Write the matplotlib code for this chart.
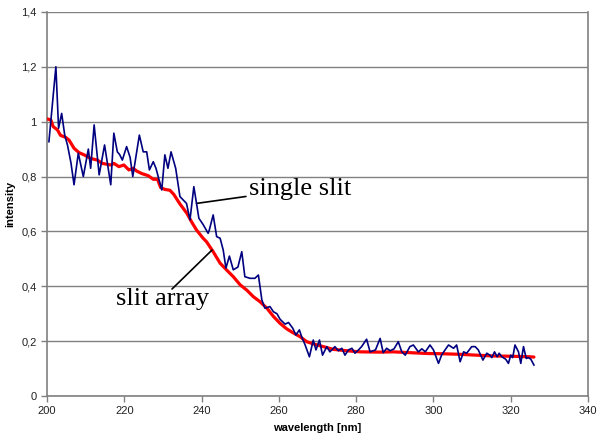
import matplotlib.pyplot as plt
from matplotlib.ticker import FuncFormatter

# single slit spectrum (noisy)
single_wl = [200.5, 202.3, 203.0, 203.8, 204.6, 205.3, 206.2, 207.0, 208.1, 209.4,
             210.7, 211.3, 212.2, 213.5, 214.9, 216.5, 217.3, 218.2, 218.8, 219.5,
             220.6, 221.5, 222.2, 223.9, 224.9, 225.8, 226.5, 227.5, 228.2, 229.7,
             230.5, 231.3, 232.1, 233.3, 234.4, 236.1, 237.0, 238.0, 238.7, 239.3,
             240.4, 241.7, 242.0, 243.0, 243.9, 244.8, 245.6, 246.3, 247.2, 248.2,
             249.4, 250.4, 251.2, 252.5, 253.8, 254.7, 255.6, 256.4, 257.7, 258.6,
             259.5, 260.3, 261.6, 262.5, 263.6, 264.4, 265.3, 265.9, 266.8, 267.9,
             268.9, 269.6, 270.5, 271.3, 272.4, 273.2, 274.5, 275.4, 276.3, 277.1,
             278.0, 278.9, 279.7, 280.6, 281.4, 282.7, 283.6, 285.0, 286.2, 287.0,
             287.9, 288.8, 289.8, 290.9, 291.8, 292.7, 293.9, 294.8, 296.1, 297.0,
             297.9, 299.1, 300.0, 301.3, 302.1, 303.0, 303.9, 305.2, 306.0, 306.9,
             307.8, 308.6, 309.9, 310.8, 311.6, 312.8, 313.8, 314.6, 315.1, 315.8,
             316.5, 317.0, 317.7, 318.7, 319.4, 320.0, 320.5, 321.1, 322.0, 322.6,
             323.3, 324.0, 324.6, 325.2, 326.0]
single_int = [0.927, 1.20, 0.976, 1.03, 0.95, 0.915, 0.85, 0.77, 0.885, 0.80,
              0.90, 0.83, 0.988, 0.806, 0.915, 0.77, 0.958, 0.89, 0.88, 0.86,
              0.909, 0.87, 0.80, 0.951, 0.89, 0.89, 0.824, 0.854, 0.83, 0.751,
              0.879, 0.83, 0.89, 0.83, 0.727, 0.702, 0.642, 0.763, 0.702, 0.648,
              0.625, 0.593, 0.605, 0.66, 0.581, 0.575, 0.532, 0.466, 0.51, 0.46,
              0.47, 0.526, 0.435, 0.429, 0.429, 0.441, 0.35, 0.32, 0.326, 0.307,
              0.30, 0.28, 0.262, 0.268, 0.247, 0.222, 0.241, 0.216, 0.186, 0.143,
              0.204, 0.168, 0.204, 0.149, 0.18, 0.161, 0.18, 0.165, 0.174, 0.149,
              0.168, 0.174, 0.156, 0.168, 0.18, 0.207, 0.161, 0.168, 0.21, 0.158,
              0.174, 0.165, 0.172, 0.198, 0.161, 0.149, 0.18, 0.186, 0.161, 0.172,
              0.161, 0.186, 0.168, 0.119, 0.149, 0.168, 0.186, 0.174, 0.186, 0.125,
              0.161, 0.156, 0.18, 0.18, 0.168, 0.131, 0.156, 0.149, 0.140, 0.161,
              0.143, 0.156, 0.143, 0.134, 0.119, 0.149, 0.14, 0.186, 0.161, 0.119,
              0.18, 0.137, 0.14, 0.134, 0.113]

# slit array spectrum (smooth)
array_wl = [200.1, 201.0, 201.6, 202.7, 203.5, 204.8, 205.7, 207.0, 208.3, 209.6,
            211.3, 213.0, 214.3, 216.5, 217.3, 218.6, 219.9, 221.2, 222.3, 223.2,
            224.5, 226.2, 227.5, 228.6, 229.4, 230.5, 231.8, 232.8, 234.4, 236.2,
            237.4, 238.7, 240.4, 241.3, 243.0, 244.8, 246.5, 248.2, 250.0, 251.7,
            253.4, 255.1, 256.9, 258.6, 260.3, 262.0, 263.5, 265.5, 267.2, 268.9,
            271.5, 274.1, 277.6, 281.0, 286.2, 289.6, 294.0, 298.3, 302.5, 306.9,
            311.0, 315.5, 320.0, 325.0, 326.0]
array_int = [1.01, 1.006, 0.982, 0.97, 0.95, 0.943, 0.933, 0.903, 0.887, 0.879,
             0.866, 0.86, 0.848, 0.842, 0.848, 0.836, 0.842, 0.824, 0.83, 0.82,
             0.811, 0.803, 0.79, 0.79, 0.76, 0.753, 0.75, 0.735, 0.70, 0.666,
             0.635, 0.605, 0.575, 0.562, 0.526, 0.484, 0.459, 0.435, 0.405, 0.386,
             0.362, 0.344, 0.32, 0.29, 0.265, 0.245, 0.232, 0.216, 0.198, 0.19,
             0.18, 0.17, 0.165, 0.161, 0.16, 0.161, 0.158, 0.155, 0.154, 0.152,
             0.149, 0.146, 0.145, 0.143, 0.142]

x_ticks = [200, 220, 240, 260, 280, 300, 320, 340]
y_ticks = [0, 0.2, 0.4, 0.6, 0.8, 1.0, 1.2, 1.4]

plt.rcParams['font.family'] = ['Liberation Sans', 'DejaVu Sans']

fig = plt.figure(figsize=(5.97, 4.41), dpi=100)
ax = fig.add_axes([0.0787, 0.102, 0.9063, 0.871])

ax.plot(array_wl, array_int, color='#ff0000', lw=2.3, zorder=3,
        solid_capstyle='round', solid_joinstyle='round')
ax.plot(single_wl, single_int, color='#000080', lw=1.2, zorder=4,
        solid_joinstyle='round')

ax.set_xlim(200, 340)
ax.set_ylim(0, 1.4)
ax.set_xticks(x_ticks)
ax.set_yticks(y_ticks)
ax.yaxis.set_major_formatter(FuncFormatter(lambda v, p: f'{v:g}'.replace('.', ',')))
ax.grid(axis='y', color='#808080', lw=1)
ax.set_axisbelow(True)
for s in ax.spines.values():
    s.set_color('#808080')
    s.set_linewidth(1.2)
ax.spines['top'].set_visible(False)
ax.tick_params(direction='out', length=4, width=1, color='#808080',
               labelsize=8, labelcolor='#222222')

ax.set_xlabel('wavelength [nm]', fontsize=8, fontweight='bold', labelpad=5)
ax.set_ylabel('intensity', fontsize=8, fontweight='bold', labelpad=4)

serif = ['Liberation Serif', 'DejaVu Serif']
ax.annotate('single slit', xy=(238.7, 0.702), xytext=(252.2, 0.755),
            fontsize=19, family=serif, va='center', ha='left',
            arrowprops=dict(arrowstyle='-', color='black', lw=1.2,
                            shrinkA=0, shrinkB=0))
ax.annotate('', xy=(242.7, 0.532), xytext=(232.35, 0.39),
            arrowprops=dict(arrowstyle='-', color='black', lw=1.2,
                            shrinkA=0, shrinkB=0))
ax.text(230.0, 0.352, 'slit array', fontsize=19, family=serif,
        va='center', ha='center')

fig.savefig('out.png', dpi=100)
